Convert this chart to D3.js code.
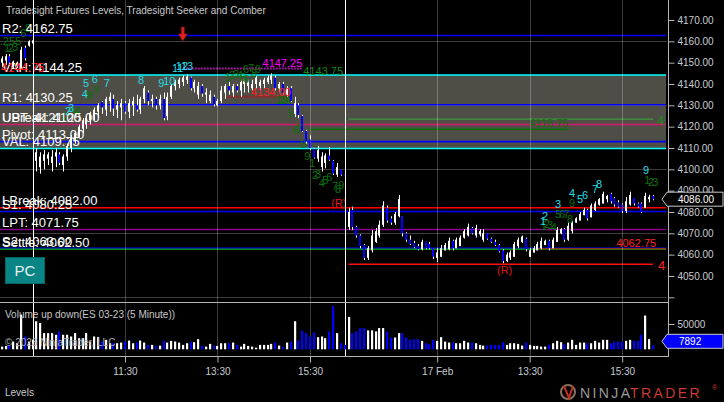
<!DOCTYPE html>
<html><head><meta charset="utf-8">
<script src="https://cdn.jsdelivr.net/npm/d3@7"></script>
<style>
html,body{margin:0;padding:0;background:#000;overflow:hidden;}
svg{display:block;font-family:"Liberation Sans",Arial,sans-serif;}
</style></head><body>
<svg id="c" width="724" height="402"></svg>
<script>
// ---------- DATA ----------
// OHLC of 5-minute bars: [open, high, low, close]
const ohlcBars = [
// previous session tail (9)
[4150,4153,4148,4152],[4151,4154,4149,4153],[4153,4154,4149,4150],[4148,4151,4147.5,4150.5],[4148.5,4150.5,4147.5,4150],[4148,4157.5,4147,4156],[4157,4158,4151,4152],[4158,4160.5,4157.5,4160],[4159,4161,4158.5,4160.5],
// session 1 (81)
[4104,4110,4099,4108],[4101,4108,4098,4106],[4104,4109,4100,4107],[4105,4108,4102,4107],[4103,4109,4099,4106],[4106,4110,4101,4108],[4107,4108,4102,4103],[4102,4107,4099,4106],[4106,4112,4104,4111],[4110,4116,4108,4115],
[4114,4118,4112,4117],[4116,4121,4115,4120],[4119,4124,4117,4123],[4121,4125,4119,4124],[4123,4127,4121,4126],[4125,4129,4123,4128],[4127,4131,4124,4130],[4131.5,4132,4126,4129],[4128,4134,4125,4133],[4132,4136,4127,4134],
[4133,4135,4125,4128.5],[4128,4132,4124,4130],[4129,4133,4123,4131],[4131,4132,4126,4127],[4127,4133,4124,4131],[4130,4134,4125,4132],[4130,4135,4127,4128],[4128,4134,4126,4133],[4133,4139,4131,4138],[4136,4137,4130,4132],
[4132,4135,4129,4133],[4133,4134,4128,4130],[4130,4135,4128,4133],[4133,4136,4123,4124],[4125,4136,4123,4134],[4134,4140,4133,4139],[4139,4142,4137,4141],[4140,4143,4138,4142],[4141,4144,4139,4143],[4142,4144.5,4140,4143.5],
[4143,4143.5,4137,4138],[4138,4142,4136,4141],[4135,4141,4133,4139],[4139,4140,4134,4135.5],[4135,4138,4131,4136],[4132,4137,4131,4135],[4134,4135,4129.5,4130.5],[4130,4133,4129.5,4132],[4132,4139,4131,4137],[4136,4140,4133,4139],
[4139,4141,4135,4137],[4136,4140,4134,4139],[4139,4140,4136,4137],[4137,4142,4134,4141],[4140,4143,4136,4142],[4139,4142,4136,4141],[4138,4142,4137,4140],[4140,4144,4138,4143],[4139,4142,4137,4141],[4140,4143,4138,4142],
[4141,4144,4140,4143],[4142,4145,4140,4144],[4143,4144,4137,4138],[4138,4141,4136,4140],[4140,4141,4135,4136],[4135,4139,4134,4138],[4138,4139,4131.5,4132],[4126,4134,4124.5,4131],[4130,4131,4124,4125.5],[4125,4125.5,4117.5,4118],
[4118,4118.5,4112,4113],[4114,4116,4109,4110],[4109.5,4110,4105,4105.5],[4105,4111,4103.5,4109],[4101,4108,4099,4106],[4103,4107.5,4100.5,4106.5],[4106.5,4110.5,4104,4104.5],[4104,4104.4,4097.3,4098],[4097.5,4103,4096.4,4101],[4100,4100,4097,4097.5],
[4097.5,4098,4096.5,4096.8],
// session 2 (80)
[4073,4082,4071.5,4080],[4081,4082.5,4071.5,4073],[4073,4073.5,4068,4069],[4069,4069.5,4063,4064],[4064.5,4065,4057.5,4058.5],[4058.5,4064,4057.5,4063],[4062,4071.5,4061,4069],[4066,4072.5,4065.5,4071],[4069,4076,4068,4074],[4074,4085,4073,4083],
[4082,4083,4075,4076],[4077,4078,4074,4075],[4075,4080,4074,4079],[4078,4088,4077.5,4086],[4078,4078,4068.5,4070],[4070,4070.5,4066,4067],[4067,4069,4064.5,4065],[4065.5,4066.5,4063,4063.5],[4064,4065,4062,4062.5],[4062.5,4067,4062,4066],
[4066,4066,4062.5,4063],[4065,4066,4062.5,4063],[4063,4063,4058,4059],[4058.5,4063,4056.5,4061],[4059,4064.5,4059,4063],[4062,4065.5,4062,4064.5],[4062.5,4068,4062,4066.5],[4066.5,4067,4062,4063],[4063,4068,4063,4067],[4064,4069,4064,4068],
[4068,4072,4067.5,4071],[4069,4074.5,4068.5,4073],[4072.5,4073,4069.5,4070],[4069,4074,4068,4072.5],[4069.5,4072,4068.5,4071],[4067,4072,4066,4070],[4070,4070,4067,4067.5],[4067.5,4068,4065.5,4066],[4066,4067,4064,4064.5],[4064.5,4065,4061,4061.5],
[4062,4062.5,4056,4057],[4057,4061,4056.5,4060],[4058.5,4062,4057.5,4061],[4059,4066,4059,4065],[4064,4068,4063,4067],[4066,4069,4065.5,4068.5],[4067.5,4068,4061.5,4062.5],[4059,4063,4059,4062],[4061,4064,4061,4063],[4062,4066,4062,4065],
[4063,4068,4062.5,4066.5],[4064.5,4067,4064.5,4066.5],[4066.5,4067,4062,4063],[4063,4068,4063,4067],[4066,4073,4066,4071.5],[4070,4072.5,4069.5,4072],[4072,4072.5,4066,4067],[4067,4075,4066.5,4073.5],[4071,4076,4070,4075],[4075,4077.5,4075,4077],
[4076,4080,4076,4079],[4078.5,4082,4078.5,4081],[4081,4081.5,4076,4077],[4077.5,4084,4077.5,4083],[4081,4085,4080.5,4084],[4083.5,4086.5,4083,4086],[4084,4089.5,4084,4088.5],[4086,4088,4084.5,4087.5],[4088.5,4089,4084,4085],[4086.5,4087,4082.5,4083.5],
[4084.5,4085.5,4082,4082.5],[4083.5,4084,4079.5,4080.5],[4080.5,4087,4079.5,4085],[4083.5,4089.5,4083,4088],[4086.5,4086.5,4083,4084],[4084,4084.5,4082,4082.5],[4084,4084.5,4079.5,4080],[4082,4089,4082,4087.5],[4086,4088,4084.5,4087],[4087.5,4088,4085.5,4086]
];
const volumes = [
5300,6700,8700,15300,12000,68700,25300,15300,18700,
55400,52000,32000,32000,32000,28700,35400,28700,28700,25300,
32000,22000,22000,32000,15300,25300,24000,15300,18700,12000,
12000,12000,13300,15300,17300,12000,13300,17300,13300,8700,
8700,6700,7300,16700,13300,16700,15300,13300,8700,12000,
14000,14000,20000,6700,5300,10700,7300,6700,12000,12000,
12000,13300,8700,5300,10700,6700,5300,3300,8700,8700,
8700,10700,13300,7300,5300,13300,15300,55400,17300,36700,
32000,25300,33400,24000,25300,22000,35400,85400,32000,12000,
8700,
64000,32000,35400,42000,
42000,37400,37400,35400,42000,42000,35400,23300,23300,32000,
32000,23300,18700,20000,20000,16700,12000,10000,18700,16700,
24000,15300,13300,13300,12000,12000,16700,13300,13300,12000,
8700,7300,7300,8700,8700,8700,14000,8700,12000,12000,
10700,7300,13300,8700,6700,6700,5300,5300,8700,12000,
16700,14000,10000,13300,18700,8700,13300,13300,12000,12000,
16700,13300,18700,18700,12000,15300,15300,15300,16700,18700,
16700,16700,28700,66700,20000,7892
];
const timeTickIdx = [32,56,80,113,137,161];
const timeTickLabels = ["11:30","13:30","15:30","17 Feb","13:30","15:30"];
const sessionEndIdx = [8,89];
const priceTicks = [4050,4060,4070,4080,4090,4100,4110,4120,4130,4140,4150,4160,4170];
const gridPrices = [4040,4070,4100,4130,4160];
const volTicks = [50000];

const levelNames  = ["R2","VAH","R1","UPT","Pivot","VAL","LBreak","S1","LPT","S2"];
const levelValues = [4162.75,4144.25,4130.25,4121.00,4113.00,4109.75,4082.00,4080.25,4071.75,4063.00];
const ubreakValue = 4125.00;
const settleValue = 4062.50;
const prevHighValue = 4144.75;
const prevTextValue = 4158.25;

const tdCyanLabels = ["2","3","4","5","6","7","8","9","10","11","12","13","1","2","3","4","5","6","7","8","9"];
const tdCyanIdx    = [16.4,17.2,20.8,21.1,23.4,26.5,35.4,40.6,41.9,44.2,45.2,46.5,139.7,140.2,143.6,147.2,149.3,150.6,153.2,154.2,166.4];
const tdCyanPrice  = [4125.5,4126.9,4133.4,4138.6,4140.5,4138.6,4140,4138.6,4139.5,4145.6,4146.6,4146.6,4073.9,4076.25,4081.9,4087,4084.2,4086.1,4088.9,4091.25,4097.8];

const tdGreenLabels = ["1","2","3","5","6","8","1","2","3","4","8","9","1","2","3","4","5","6","6","7","8","9","1","2","3","4","5","6","7","8","9","1","2","3","4","5","6","7","8","9","1","2","3","4","5","6","7","8","9","1","2","3"];
const tdGreenIdx    = [0.6,1.6,2.7,3.5,4.8,6.1,15.1,16.2,17.7,18.8,22.1,23.7,57.9,59,60,61,61.8,62.6,62.6,63.9,64.7,65.7,71,71.8,72.6,73.4,74.3,75.6,76.4,77.4,78.5,79.8,80.5,81.3,82.3,83.2,84.2,85.7,86.5,87.3,139.9,140.7,141.5,142.5,143.6,144.6,145.7,146.7,147.2,166.7,167.7,168.8];
const tdGreenPrice  = [4155,4155,4155.5,4158.3,4162,4164.4,4122.2,4123.1,4125,4125.5,4133,4135.8,4141.4,4142.3,4142.8,4142.3,4141.4,4140.5,4145.2,4145.6,4143.3,4145.2,4130.6,4130.6,4130.6,4130.6,4124.5,4116.6,4117.5,4110,4104.4,4101.1,4095.5,4096,4091.7,4093.1,4094.5,4090.3,4088.9,4090.8,4071.6,4072.5,4072,4071.1,4077.2,4077.2,4077.2,4074.8,4082.3,4093.1,4092.2,4092.2];

const highMarkValue = 4147.25, highMarkFrom = 47, highMarkTo = 78;
const lowMarkValue = 4134.00, lowMarkFrom = 58, lowMarkTo = 75;
const greenMarkValue = 4143.75;
const lineA_value = 4118.75, lineA_from = 80, lineA_to = 147;
const lineB_value = 4123.5, lineB_from = 90, lineB_to = 169;
const lineC_value = 4055.5, lineC_from = 90, lineC_to = 169;
const lineD_value = 4062.75, lineD_from = 139;
const reversalIdx = [87.5, 130.5], reversalPrice = [4082.3, 4051];
const lastPrice = 4086.00, lastVolume = 7892;

// ---------- DRAW ----------
const svg = d3.select("#c");
const plotR = 668, priceBottom = 303, volBottom = 356.5;
const x = d3.scaleLinear().domain([0,169]).range([1.67,653]);
const y = d3.scaleLinear().domain([4040,4170]).range([297.3,20]);
const yv = d3.scaleLinear().domain([0,50000]).range([349.3,324]);

svg.append("rect").attr("width",724).attr("height",402).attr("fill","#000");
const defs = svg.append("defs");
defs.append("clipPath").attr("id","pc").append("rect").attr("x",0).attr("y",0).attr("width",666.5).attr("height",priceBottom);
defs.append("clipPath").attr("id","vc").append("rect").attr("x",0).attr("y",priceBottom).attr("width",666.5).attr("height",volBottom-priceBottom);

const P = svg.append("g").attr("clip-path","url(#pc)");
// value area band
P.append("rect").attr("x",0).attr("width",666)
 .attr("y",y(levelValues[1])).attr("height",y(levelValues[5])-y(levelValues[1]))
 .attr("fill","#4f4e46");
// grid
const gridCol = "rgba(255,255,255,0.24)";
P.selectAll(".hg").data(gridPrices).join("line")
 .attr("x1",0).attr("x2",667).attr("y1",d=>Math.round(y(d))+0.5).attr("y2",d=>Math.round(y(d))+0.5)
 .attr("stroke",gridCol).attr("stroke-width",1);
svg.selectAll(".vg").data(timeTickIdx).join("line")
 .attr("x1",d=>Math.round(x(d))+0.5).attr("x2",d=>Math.round(x(d))+0.5).attr("y1",0).attr("y2",volBottom)
 .attr("stroke",gridCol).attr("stroke-width",1);
// session end lines
svg.selectAll(".se").data(sessionEndIdx).join("line")
 .attr("x1",d=>Math.round(x(d))+0.5).attr("x2",d=>Math.round(x(d))+0.5).attr("y1",0).attr("y2",volBottom)
 .attr("stroke","#ffffff").attr("stroke-width",1);

// level lines
const levelColor = {R2:"#0000ff",VAH:"#00ffff",R1:"#0000ff",UPT:"#d8186e",Pivot:"#0000ff",VAL:"#00ffff",LBreak:"#ff0000",S1:"#0000ff",LPT:"#8a008a",S2:"#0000ff"};
levelNames.forEach((n,i)=>{
  P.append("line").attr("x1",0).attr("x2",666).attr("y1",y(levelValues[i])).attr("y2",y(levelValues[i]))
   .attr("stroke",levelColor[n]).attr("stroke-width",1.6);
});
P.append("line").attr("x1",0).attr("x2",666).attr("y1",y(settleValue)).attr("y2",y(settleValue))
 .attr("stroke","#009000").attr("stroke-width",1.6);

// extra study lines
P.append("line").attr("x1",x(lineA_from)).attr("x2",x(lineA_to)).attr("y1",y(lineA_value)).attr("y2",y(lineA_value)).attr("stroke","#0b6e0b").attr("stroke-width",1.6);
P.append("line").attr("x1",x(lineB_from)).attr("x2",x(lineB_to)).attr("y1",y(lineB_value)).attr("y2",y(lineB_value)).attr("stroke","#3c9a3c").attr("stroke-width",1.2);
P.append("line").attr("x1",x(lineC_from)).attr("x2",x(lineC_to)).attr("y1",y(lineC_value)).attr("y2",y(lineC_value)).attr("stroke","#ff1010").attr("stroke-width",1.6);
P.append("line").attr("x1",x(lineD_from)).attr("x2",666).attr("y1",y(lineD_value)).attr("y2",y(lineD_value)).attr("stroke","#8a3a1a").attr("stroke-width",1.6);
P.append("line").attr("x1",x(highMarkFrom)).attr("x2",x(highMarkTo)).attr("y1",y(highMarkValue)).attr("y2",y(highMarkValue))
 .attr("stroke","#9a1a9a").attr("stroke-width",2).attr("stroke-dasharray","2,1");
P.append("line").attr("x1",x(lowMarkFrom)).attr("x2",x(lowMarkTo)).attr("y1",y(lowMarkValue)).attr("y2",y(lowMarkValue))
 .attr("stroke","#a02020").attr("stroke-width",2).attr("stroke-dasharray","2,1");

// candles
const bars = ohlcBars.map((b,i)=>({i,o:b[0],h:b[1],l:b[2],c:b[3],v:volumes[i]}));
const cg = P.append("g");
bars.forEach(b=>{
  const cx = Math.round(x(b.i));
  const up = b.c >= b.o;
  cg.append("rect").attr("x",cx).attr("width",1).attr("y",y(b.h)).attr("height",Math.max(1,y(b.l)-y(b.h))).attr("fill","#ffffff");
  const top = y(Math.max(b.o,b.c)), bot = y(Math.min(b.o,b.c));
  cg.append("rect").attr("x",cx-1).attr("width",2).attr("y",top).attr("height",Math.max(1,bot-top))
    .attr("fill",up?"#ffffff":"#0000ff");
});

// TD numbers
const tdg = P.append("g").attr("font-size","11px");
P.append("text").attr("x",15).attr("y",y(prevTextValue)).attr("text-anchor","end").attr("font-size","11px").attr("fill","#0a720a").text(prevTextValue.toFixed(2));
tdGreenLabels.forEach((t,i)=>{
  tdg.append("text").attr("x",x(tdGreenIdx[i])).attr("y",y(tdGreenPrice[i])).attr("fill","#0a720a").text(t);
});
tdCyanLabels.forEach((t,i)=>{
  tdg.append("text").attr("x",x(tdCyanIdx[i])).attr("y",y(tdCyanPrice[i])).attr("fill","#22dce6").text(t);
});

// annotation texts
P.append("text").attr("x",x(highMarkTo)).attr("y",y(highMarkValue)-1.5).attr("text-anchor","end").attr("font-size","11px").attr("fill","#ff00ff").text(highMarkValue.toFixed(2));
P.append("text").attr("x",x(highMarkTo)+1).attr("y",y(greenMarkValue)-0.5).attr("font-size","11px").attr("fill","#108a10").text(greenMarkValue.toFixed(2));
P.append("text").attr("x",x(lowMarkTo)).attr("y",y(lowMarkValue)-1).attr("text-anchor","end").attr("font-size","11px").attr("fill","#ff2020").text(lowMarkValue.toFixed(2));
P.append("text").attr("x",x(lineA_to)).attr("y",y(lineA_value)-2).attr("text-anchor","end").attr("font-size","11px").attr("fill","#0b6e0b").text(lineA_value.toFixed(2));
P.append("text").attr("x",x(lineD_from)+79).attr("y",y(lineD_value)-2).attr("font-size","11px").attr("fill","#ff2020").text(lineD_value.toFixed(2));
P.append("text").attr("x",x(lineB_to)+4).attr("y",y(lineB_value)+6).attr("font-size","13px").attr("fill","#1a8a1a").text("4");
P.append("text").attr("x",x(lineC_to)+5).attr("y",y(lineC_value)+6).attr("font-size","13px").attr("fill","#ff2020").text("4");
reversalIdx.forEach((d,i)=>{
  P.append("text").attr("x",x(d)).attr("y",y(reversalPrice[i])).attr("text-anchor","middle").attr("font-size","11px").attr("fill","#e01818").text("(R)");
});

// level labels
const lg = P.append("g").attr("font-size","13px").attr("fill","#ffffff");
levelNames.forEach((n,i)=>{
  lg.append("text").attr("x",2).attr("y",y(levelValues[i])-2.5).text(n+": "+levelValues[i].toFixed(2));
});
lg.append("text").attr("x",2).attr("y",y(levelValues[3])-2.5).text("UBreak: "+ubreakValue.toFixed(2));
lg.append("text").attr("x",2).attr("y",y(settleValue)-2.5).text("Settle: "+settleValue.toFixed(2));
P.append("text").attr("x",1).attr("y",y(levelValues[1])-3).attr("font-size","12px").attr("fill","#ff2020").text(prevHighValue.toFixed(2));

// down arrow at session high bar
const ax = x(highMarkFrom);
P.append("path").attr("d",`M${ax-1.5},27 h3 v7 h3 l-4.5,7 l-4.5,-7 h3 z`).attr("fill","#e02020").attr("stroke","#901010").attr("stroke-width",0.6);

// PC button
svg.append("rect").attr("x",5.5).attr("y",257.5).attr("width",39).attr("height",26).attr("fill","#0a8585").attr("stroke","#066").attr("stroke-width",1);
svg.append("text").attr("x",25).attr("y",276).attr("text-anchor","middle").attr("font-size","15px").attr("fill","#e8f0f0").text("PC");

// volume bars
const V = svg.append("g").attr("clip-path","url(#vc)");
bars.forEach(b=>{
  const cx = Math.round(x(b.i));
  V.append("rect").attr("x",cx-1).attr("width",2.2).attr("y",yv(b.v)).attr("height",yv(0)-yv(b.v))
   .attr("fill", b.c>=b.o ? "#ffffff" : "#0000ff");
});

// panel frame
const frameCol = "#b4b4b4";
svg.append("line").attr("x1",0).attr("x2",plotR).attr("y1",priceBottom-0.5).attr("y2",priceBottom-0.5).attr("stroke",frameCol);

// price axis
const ya = d3.axisRight(y).tickValues(priceTicks.concat([4040])).tickFormat(d=>d===4040?"":d3.format(".2f")(d)).tickSize(6).tickPadding(3);
const yg = svg.append("g").attr("transform",`translate(${plotR+0.5},0)`).call(ya);
yg.select(".domain").remove();
const va = d3.axisRight(yv).tickValues(volTicks).tickFormat(d3.format("d")).tickSize(6).tickPadding(3);
const vg = svg.append("g").attr("transform",`translate(${plotR+0.5},0)`).call(va);
vg.select(".domain").remove();
svg.append("line").attr("x1",plotR+0.5).attr("x2",plotR+0.5).attr("y1",0).attr("y2",volBottom+0.5).attr("stroke",frameCol);

// time axis
const xa = d3.axisBottom(x).tickValues(timeTickIdx).tickFormat((d,i)=>timeTickLabels[i]).tickSize(6).tickPadding(5);
const xg = svg.append("g").attr("transform",`translate(0,${volBottom})`).call(xa);
xg.select(".domain").remove();
svg.append("line").attr("x1",0).attr("x2",plotR+0.5).attr("y1",volBottom).attr("y2",volBottom).attr("stroke",frameCol);
[yg,vg,xg].forEach(g=>{
  g.selectAll("line").attr("stroke",frameCol);
  g.selectAll("text").attr("fill","#c8ccd0").attr("font-size","10px").attr("font-family","Liberation Sans, Arial, sans-serif");
});

// last price marker
const lp = y(lastPrice);
svg.append("path").attr("d",`M662,${lp} L667,${lp-7} H723 V${lp+7} H667 Z`).attr("fill","#000").attr("stroke","#c8c8c8").attr("stroke-width",1);
svg.append("text").attr("x",678).attr("y",lp+4).attr("font-size","10px").attr("fill","#ffffff").text(lastPrice.toFixed(2));
const lv = yv(lastVolume)-4;
svg.append("path").attr("d",`M662,${lv} L667,${lv-7} H723 V${lv+7} H667 Z`).attr("fill","#0000ff").attr("stroke","#c8c8c8").attr("stroke-width",1);
svg.append("text").attr("x",679).attr("y",lv+4).attr("font-size","10px").attr("fill","#ffffff").text(String(lastVolume));

// titles
svg.append("text").attr("x",6).attr("y",14).attr("font-size","10px").attr("fill","#c8c8c8").text("Tradesight Futures Levels, Tradesight Seeker and Comber");
svg.append("text").attr("x",5).attr("y",318).attr("font-size","10px").attr("fill","#c8c8c8").text("Volume up down(ES 03-23 (5 Minute))");
svg.append("text").attr("x",5).attr("y",346).attr("font-size","10px").attr("fill","#a8a8a8").text("© 2023 NinjaTrader, LLC");
svg.append("text").attr("x",5).attr("y",396).attr("font-size","10px").attr("fill","#c8c8c8").text("Levels");

// logo
const lgo = svg.append("g");
lgo.append("circle").attr("cx",568).attr("cy",392).attr("r",7).attr("fill","none").attr("stroke","#8a7060").attr("stroke-width",2);
lgo.append("path").attr("d","M564,386 L569,398 L573,386").attr("fill","none").attr("stroke","#c03020").attr("stroke-width",2);
lgo.append("text").attr("x",580).attr("y",398).attr("font-size","14px").attr("letter-spacing","2.4px").attr("fill","#9a9a9a").text("NINJA");
lgo.append("text").attr("x",630).attr("y",398).attr("font-size","14px").attr("letter-spacing","2.4px").attr("fill","#c83a32").text("TRADER");
lgo.append("text").attr("x",712).attr("y",390).attr("font-size","7px").attr("fill","#c83a32").text("®");
</script>
</body></html>
